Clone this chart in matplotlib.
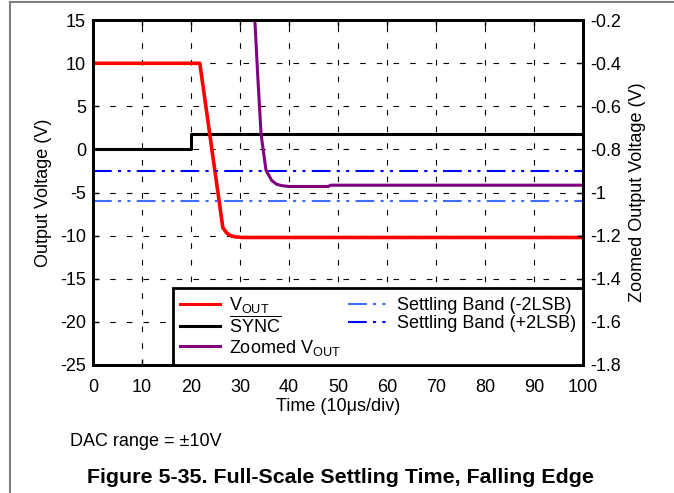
import numpy as np
import matplotlib
matplotlib.use("Agg")
import matplotlib.pyplot as plt
from matplotlib.lines import Line2D

plt.rcParams['font.family'] = ['Liberation Sans', 'DejaVu Sans']
plt.rcParams['mathtext.fontset'] = 'custom'
plt.rcParams['mathtext.rm'] = 'Liberation Sans'
plt.rcParams['mathtext.it'] = 'Liberation Sans'
plt.rcParams['axes.unicode_minus'] = False

# VOUT (left axis, V)
vout_t = [0, 21.8, 26.5, 27.3, 28.0, 29.0, 30.5, 100]
vout_v = [10, 10, -9.1, -9.7, -10.0, -10.15, -10.22, -10.22]

# SYNC (left axis, V)
sync_t = [0, 20, 20, 100]
sync_v = [0, 0, 1.75, 1.75]

# zoomed VOUT (right axis, V)
zoom_t = [32.8, 33.6, 34.3, 35.3, 36.0, 36.5, 37.5, 38.5, 40, 45, 48, 48.5, 100]
zoom_v = [-0.1, -0.45, -0.73, -0.896, -0.925, -0.945, -0.962, -0.968,
          -0.972, -0.972, -0.972, -0.966, -0.966]

# settling bands (right axis, V)
band_lo = -1.04
band_hi = -0.899

xticks = np.arange(0, 101, 10)
yticks_l = np.arange(-25, 16, 5)
yticks_r = [-1.8, -1.6, -1.4, -1.2, -1.0, -0.8, -0.6, -0.4, -0.2]
yticklabels_r = ['-1.8', '-1.6', '-1.4', '-1.2', '-1', '-0.8', '-0.6', '-0.4', '-0.2']

fig = plt.figure(figsize=(6.74, 4.93), dpi=100)
ax = fig.add_axes([0.138, 0.26, 0.727, 0.699])
ax2 = ax.twinx()

ax.set_xlim(0, 100)
ax.set_ylim(-25, 15)
ax2.set_ylim(-1.8, -0.2)

ax.set_xticks(xticks)
ax.set_yticks(yticks_l)
ax2.set_yticks(yticks_r)
ax2.set_yticklabels(yticklabels_r)

ax.grid(True, color='black', linestyle=(0, (5, 10)), linewidth=0.8)

dash = (0, (9, 3, 1.5, 3, 1.5, 3))
ax2.plot([0, 100], [band_lo, band_lo], color='#3f6cff', lw=1.5, linestyle=dash)
ax2.plot([0, 100], [band_hi, band_hi], color='#0000ff', lw=1.5, linestyle=dash)
ax.plot(sync_t, sync_v, color='black', lw=2.2)
ax.plot(vout_t, vout_v, color='#ff0000', lw=2.6)
ax2.plot(zoom_t, zoom_v, color='#800080', lw=2.2)

for a in (ax, ax2):
    for s in a.spines.values():
        s.set_linewidth(2)
    a.tick_params(direction='in', labelsize=13, length=4, width=1)
ax.tick_params(axis='y', pad=5)
ax.tick_params(axis='x', top=True, pad=10)
ax2.tick_params(pad=5)

ax.set_xlabel('Time (10\u03bcs/div)', fontsize=13, labelpad=2)
ax.set_ylabel('Output Voltage (V)', fontsize=13, labelpad=6)
ax2.set_ylabel('Zoomed Output Voltage (V)', fontsize=13, labelpad=6)

handles = [
    Line2D([], [], color='#ff0000', lw=2.2),
    Line2D([], [], color='black', lw=2.2),
    Line2D([], [], color='#800080', lw=2.2),
    Line2D([], [], color='#3f6cff', lw=1.5, linestyle=dash),
    Line2D([], [], color='#0000ff', lw=1.5, linestyle=dash),
]
labels = [r'V$_{\mathrm{OUT}}$', r'$\overline{\mathrm{SYNC}}$', r'Zoomed V$_{\mathrm{OUT}}$',
          'Settling Band (-2LSB)', 'Settling Band (+2LSB)']
leg = ax2.legend(handles, labels, ncol=2, loc='lower right', bbox_to_anchor=(1, 0),
                 borderaxespad=0, fontsize=13, fancybox=False, framealpha=1,
                 edgecolor='black', handlelength=2.2, labelspacing=0.05,
                 columnspacing=0.4, borderpad=0.4, handletextpad=0.5)
leg.get_frame().set_linewidth(2)

fig.text(0.104, 0.095, 'DAC range = \u00b110V', fontsize=13)
fig.text(0.505, 0.02, 'Figure 5-35. Full-Scale Settling Time, Falling Edge',
         fontsize=15.4, fontweight='bold', ha='center')

fig.add_artist(Line2D([0.015, 1], [0.996, 0.996], color='#808080', lw=1.5))
fig.add_artist(Line2D([0.015, 0.015], [0, 0.996], color='#808080', lw=1.5))

fig.savefig('out.png', dpi=100)
